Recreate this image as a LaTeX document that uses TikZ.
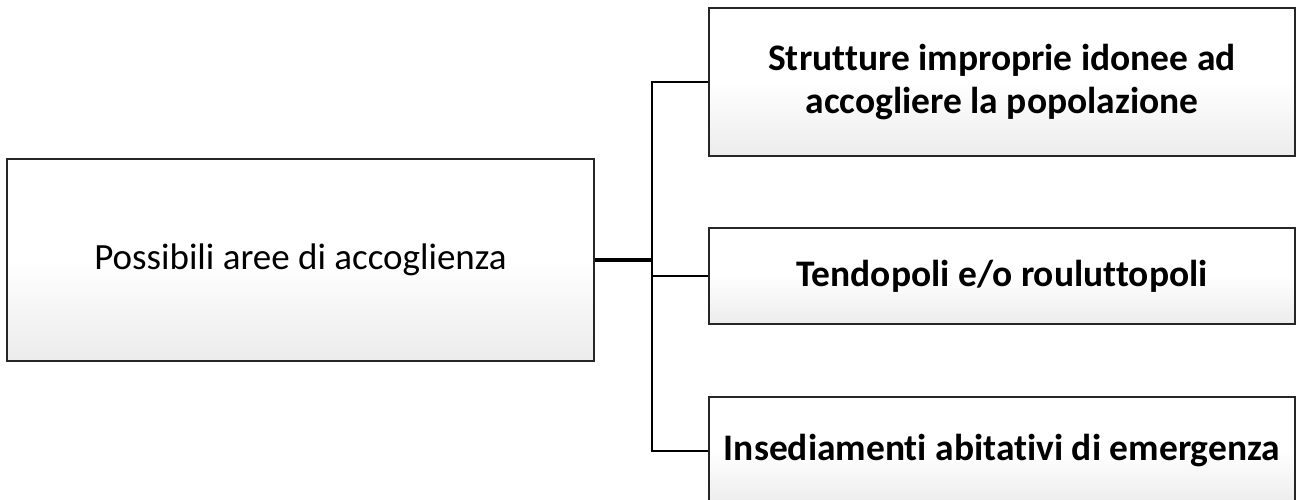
\documentclass[tikz,border=0pt]{standalone}
\usepackage{fontspec}
\setmainfont[Ligatures=NoCommon]{Carlito}
\pgfdeclareverticalshading{boxshade}{100bp}{color(0bp)=(black!12); color(20bp)=(black!9); color(50bp)=(white); color(100bp)=(white)}
\tikzset{
  box/.style={draw=black!85, line width=2.5pt, shading=boxshade, rectangle, minimum width=586pt, align=center, inner sep=0pt},
  conn/.style={draw=black, line width=2pt},
  mainconn/.style={draw=black, line width=3.5pt},
  lbl/.style={font=\fontsize{37}{44}\selectfont},
  blbl/.style={font=\fontsize{37.5}{43}\selectfont\bfseries}
}
\begin{document}
\begin{tikzpicture}[x=1pt,y=-1pt]
\useasboundingbox (0,0) rectangle (1296,499);
\clip (0,0) rectangle (1296,499);
\node[box, lbl, minimum width=587pt, minimum height=202pt] (left) at (300.5,260) {Possibili aree di accoglienza};
\node[box, blbl, minimum height=148pt] (top) at (1002,82) {Strutture improprie idonee ad\\accogliere la popolazione};
\node[box, blbl, minimum height=96pt] (mid) at (1002,276) {Tendopoli e/o rouluttopoli};
\node[box, blbl, minimum height=108pt] (bot) at (1002,451) {Insediamenti abitativi di emergenza};
\coordinate (j) at (652,260);
\draw[mainconn] (left.east) -- (j);
\draw[conn] (j) |- (top.west);
\draw[conn] (j) |- (mid.west);
\draw[conn] (j) |- (bot.west);
\end{tikzpicture}
\end{document}
